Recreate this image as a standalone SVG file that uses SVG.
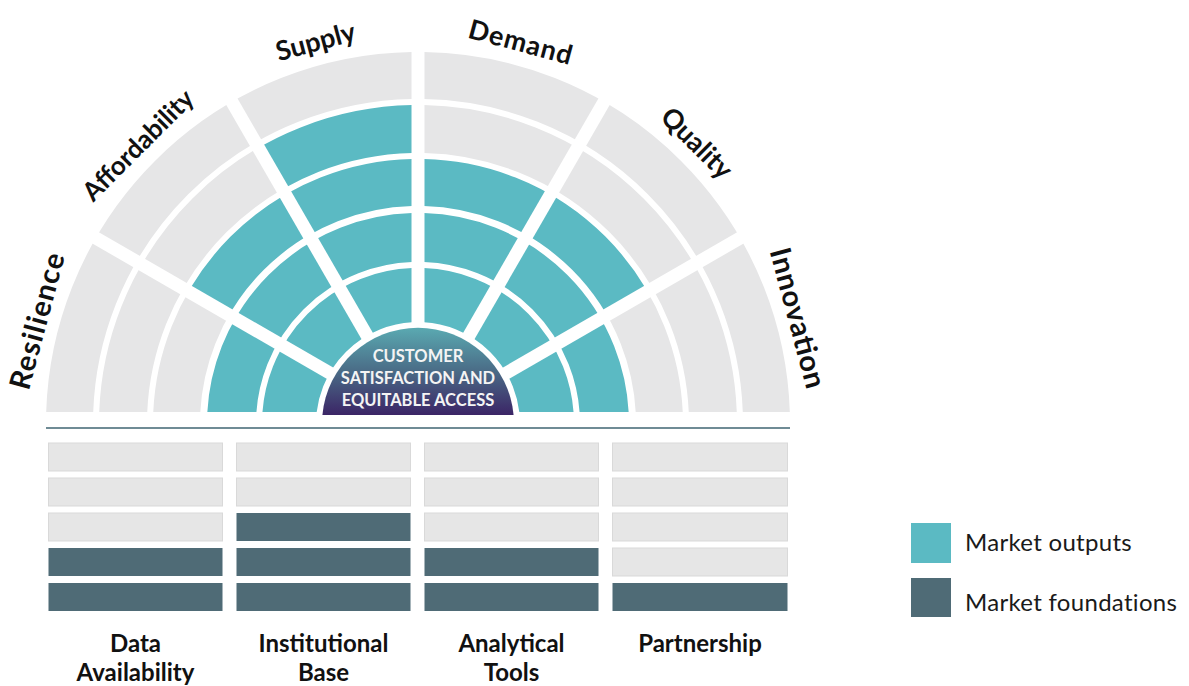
<svg xmlns="http://www.w3.org/2000/svg" width="1189" height="686" viewBox="0 0 1189 686">
  <style>
    .cell { fill: none; }
    .g { stroke: #e6e6e7; }
    .t { stroke: #5bbac3; }
    .r1 { stroke-width: 54px; }
    .r2 { stroke-width: 49px; }
    .r3 { stroke-width: 47px; }
    .r4 { stroke-width: 48px; }
    .r5 { stroke-width: 47px; }
    .dim { font-family: Lato, "Liberation Sans", sans-serif; font-weight: 700; font-size: 27px; fill: #111; text-anchor: middle; }
    .big { font-size: 29px; }
    .pillar { font-family: Lato, "Liberation Sans", sans-serif; font-weight: 700; font-size: 24px; fill: #111; text-anchor: middle; }
    .bar-g { fill: #e6e6e6; stroke: #d9d9d9; stroke-width: 1; }
    .bar-d { fill: #4f6b76; }
    .legend { font-family: Lato, "Liberation Sans", sans-serif; font-size: 24px; letter-spacing: 0.3px; fill: #1a1a1a; }
    .core { font-family: Lato, "Liberation Sans", sans-serif; font-weight: 700; font-size: 16.5px; fill: #f4f4f4; text-anchor: middle; }
  </style>
  <defs>
    <!-- wedges bounded by constant-width gaps between the six sectors -->
    <clipPath id="clip-res"><polygon points="384.21,412 -104.85,129.63 -120,412"/></clipPath>
    <clipPath id="clip-aff"><polygon points="400.24,406.24 112.37,-92.35 -98.35,118.37"/></clipPath>
    <clipPath id="clip-sup"><polygon points="411.5,399.74 411.5,-176 123.63,-98.85"/></clipPath>
    <clipPath id="clip-dem"><polygon points="424.5,399.74 424.5,-176 712.37,-98.85"/></clipPath>
    <clipPath id="clip-qua"><polygon points="435.76,406.24 723.63,-92.35 934.35,118.37"/></clipPath>
    <clipPath id="clip-inn"><polygon points="451.79,412 940.85,129.63 956,412"/></clipPath>
    <linearGradient id="core-grad" x1="0" y1="328" x2="0" y2="415" gradientUnits="userSpaceOnUse">
      <stop offset="0" stop-color="#5aa9b1"/>
      <stop offset="0.5" stop-color="#4a6b86"/>
      <stop offset="1" stop-color="#3b2566"/>
    </linearGradient>
  </defs>

  <!-- ring sectors: ring 1 is innermost -->
  <g id="sector-resilience" clip-path="url(#clip-res)">
    <circle class="cell t r1" cx="418" cy="424" r="129"/>
    <circle class="cell t r2" cx="418" cy="424" r="186.5"/>
    <circle class="cell g r3" cx="418" cy="424" r="241.5"/>
    <circle class="cell g r4" cx="418" cy="424" r="295"/>
    <circle class="cell g r5" cx="418" cy="424" r="348.5"/>
  </g>
  <g id="sector-affordability" clip-path="url(#clip-aff)">
    <circle class="cell t r1" cx="418" cy="424" r="129"/>
    <circle class="cell t r2" cx="418" cy="424" r="186.5"/>
    <circle class="cell t r3" cx="418" cy="424" r="241.5"/>
    <circle class="cell g r4" cx="418" cy="424" r="295"/>
    <circle class="cell g r5" cx="418" cy="424" r="348.5"/>
  </g>
  <g id="sector-supply" clip-path="url(#clip-sup)">
    <circle class="cell t r1" cx="418" cy="424" r="129"/>
    <circle class="cell t r2" cx="418" cy="424" r="186.5"/>
    <circle class="cell t r3" cx="418" cy="424" r="241.5"/>
    <circle class="cell t r4" cx="418" cy="424" r="295"/>
    <circle class="cell g r5" cx="418" cy="424" r="348.5"/>
  </g>
  <g id="sector-demand" clip-path="url(#clip-dem)">
    <circle class="cell t r1" cx="418" cy="424" r="129"/>
    <circle class="cell t r2" cx="418" cy="424" r="186.5"/>
    <circle class="cell t r3" cx="418" cy="424" r="241.5"/>
    <circle class="cell g r4" cx="418" cy="424" r="295"/>
    <circle class="cell g r5" cx="418" cy="424" r="348.5"/>
  </g>
  <g id="sector-quality" clip-path="url(#clip-qua)">
    <circle class="cell t r1" cx="418" cy="424" r="129"/>
    <circle class="cell t r2" cx="418" cy="424" r="186.5"/>
    <circle class="cell t r3" cx="418" cy="424" r="241.5"/>
    <circle class="cell g r4" cx="418" cy="424" r="295"/>
    <circle class="cell g r5" cx="418" cy="424" r="348.5"/>
  </g>
  <g id="sector-innovation" clip-path="url(#clip-inn)">
    <circle class="cell t r1" cx="418" cy="424" r="129"/>
    <circle class="cell t r2" cx="418" cy="424" r="186.5"/>
    <circle class="cell g r3" cx="418" cy="424" r="241.5"/>
    <circle class="cell g r4" cx="418" cy="424" r="295"/>
    <circle class="cell g r5" cx="418" cy="424" r="348.5"/>
  </g>

  <!-- central goal -->
  <g id="core">
    <path d="M322.4,415 A96,96 0 0 1 513.6,415 Z" fill="url(#core-grad)"/>
    <text class="core" x="418" y="362">CUSTOMER</text>
    <text class="core" x="418" y="384">SATISFACTION AND</text>
    <text class="core" x="418" y="406">EQUITABLE ACCESS</text>
  </g>

  <!-- sector titles -->
  <g id="sector-labels">
    <text class="dim big" transform="translate(37,321) rotate(-75)" dy="0.35em" textLength="140" lengthAdjust="spacing">Resilience</text>
    <text class="dim" transform="translate(138,145) rotate(-45)" dy="0.35em" style="font-size:26px">Affordability</text>
    <text class="dim" transform="translate(315.5,41.5) rotate(-15)" dy="0.35em">Supply</text>
    <text class="dim" transform="translate(520.5,42) rotate(15)" dy="0.35em" textLength="106" lengthAdjust="spacing">Demand</text>
    <text class="dim" transform="translate(697,143) rotate(45)" dy="0.35em">Quality</text>
    <text class="dim big" transform="translate(798,318) rotate(75)" dy="0.35em" textLength="144" lengthAdjust="spacing">Innovation</text>
  </g>

  <!-- divider between outputs and foundations -->
  <g id="connectors">
    <line x1="46" y1="428" x2="790" y2="428" stroke="#6f8b95" stroke-width="2"/>
  </g>

  <!-- foundation columns -->
  <g id="col-data">
    <rect class="bar-g" x="48.5" y="443" width="174" height="28"/>
    <rect class="bar-g" x="48.5" y="478" width="174" height="28"/>
    <rect class="bar-g" x="48.5" y="513" width="174" height="28"/>
    <rect class="bar-d" x="48.5" y="548" width="174" height="28"/>
    <rect class="bar-d" x="48.5" y="583" width="174" height="28"/>
    <text class="pillar" x="135.5" y="652">Data</text>
    <text class="pillar" x="135.5" y="681">Availability</text>
  </g>
  <g id="col-institutional">
    <rect class="bar-g" x="236.5" y="443" width="174" height="28"/>
    <rect class="bar-g" x="236.5" y="478" width="174" height="28"/>
    <rect class="bar-d" x="236.5" y="513" width="174" height="28"/>
    <rect class="bar-d" x="236.5" y="548" width="174" height="28"/>
    <rect class="bar-d" x="236.5" y="583" width="174" height="28"/>
    <text class="pillar" x="323.5" y="652">Institutional</text>
    <text class="pillar" x="323.5" y="681">Base</text>
  </g>
  <g id="col-analytical">
    <rect class="bar-g" x="424.5" y="443" width="174" height="28"/>
    <rect class="bar-g" x="424.5" y="478" width="174" height="28"/>
    <rect class="bar-g" x="424.5" y="513" width="174" height="28"/>
    <rect class="bar-d" x="424.5" y="548" width="174" height="28"/>
    <rect class="bar-d" x="424.5" y="583" width="174" height="28"/>
    <text class="pillar" x="511.5" y="652">Analytical</text>
    <text class="pillar" x="511.5" y="681">Tools</text>
  </g>
  <g id="col-partnership">
    <rect class="bar-g" x="612.5" y="443" width="175" height="28"/>
    <rect class="bar-g" x="612.5" y="478" width="175" height="28"/>
    <rect class="bar-g" x="612.5" y="513" width="175" height="28"/>
    <rect class="bar-g" x="612.5" y="548" width="175" height="28"/>
    <rect class="bar-d" x="612.5" y="583" width="175" height="28"/>
    <text class="pillar" x="700" y="652">Partnership</text>
  </g>

  <!-- legend -->
  <g id="legend">
    <rect x="911" y="523" width="40" height="40" fill="#5bbac3"/>
    <text class="legend" x="965" y="551">Market outputs</text>
    <rect x="911" y="578" width="40" height="39" fill="#4f6b76"/>
    <text class="legend" x="965" y="611">Market foundations</text>
  </g>
</svg>
